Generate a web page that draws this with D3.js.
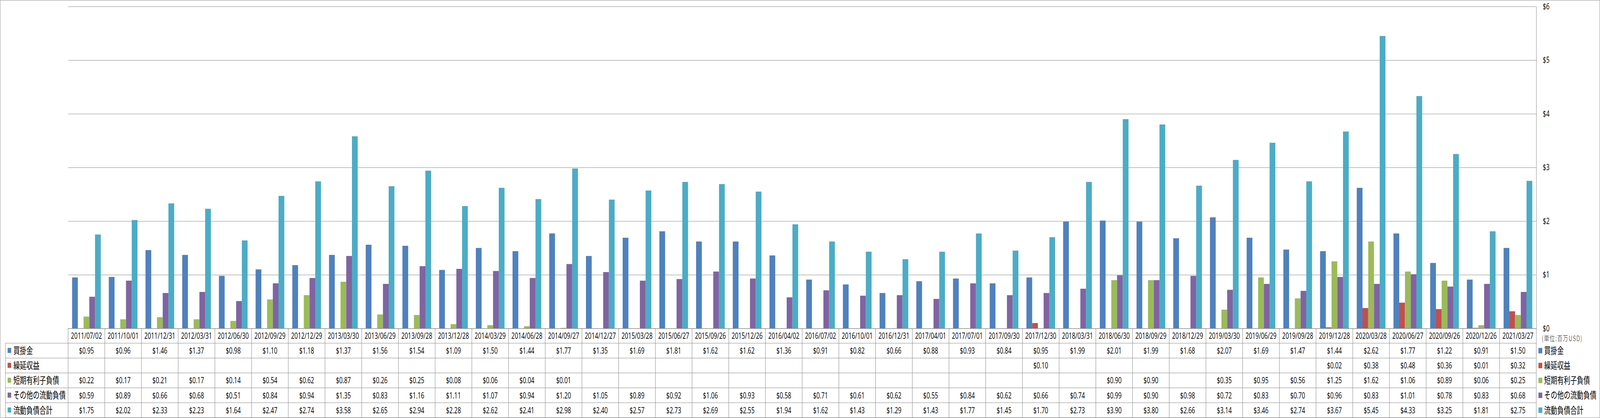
<!DOCTYPE html>
<html>
<head>
<meta charset="utf-8">
<script src="https://cdn.jsdelivr.net/npm/d3@7"></script>
<style>
	html, body { margin: 0; background: #fff; overflow: hidden; }
	svg { display: block; }
	line, path, rect.frame { vector-effect: non-scaling-stroke; }
</style>
</head>
<body>
<script>
// quarter-end dates (category axis / table header)
const dates = [
	'2011/07/02', '2011/10/01', '2011/12/31', '2012/03/31', '2012/06/30', '2012/09/29',
	'2012/12/29', '2013/03/30', '2013/06/29', '2013/09/28', '2013/12/28', '2014/03/29',
	'2014/06/28', '2014/09/27', '2014/12/27', '2015/03/28', '2015/06/27', '2015/09/26',
	'2015/12/26', '2016/04/02', '2016/07/02', '2016/10/01', '2016/12/31', '2017/04/01',
	'2017/07/01', '2017/09/30', '2017/12/30', '2018/03/31', '2018/06/30', '2018/09/29',
	'2018/12/29', '2019/03/30', '2019/06/29', '2019/09/28', '2019/12/28', '2020/03/28',
	'2020/06/27', '2020/09/26', '2020/12/26', '2021/03/27'
];

// 買掛金
const accountsPayable = [
	0.95, 0.96, 1.46, 1.37, 0.98, 1.10, 1.18, 1.37, 1.56, 1.54, 1.09, 1.50,
	1.44, 1.77, 1.35, 1.69, 1.81, 1.62, 1.62, 1.36, 0.91, 0.82, 0.66, 0.88,
	0.93, 0.84, 0.95, 1.99, 2.01, 1.99, 1.68, 2.07, 1.69, 1.47, 1.44, 2.62,
	1.77, 1.22, 0.91, 1.50
];

// 繰延収益
const deferredRevenue = [
	null, null, null, null, null, null, null, null, null, null, null, null,
	null, null, null, null, null, null, null, null, null, null, null, null,
	null, null, 0.10, null, null, null, null, null, null, null, 0.02, 0.38,
	0.48, 0.36, 0.01, 0.32
];

// 短期有利子負債
const shortTermDebt = [
	0.22, 0.17, 0.21, 0.17, 0.14, 0.54, 0.62, 0.87, 0.26, 0.25, 0.08, 0.06,
	0.04, 0.01, null, null, null, null, null, null, null, null, null, null,
	null, null, null, null, 0.90, 0.90, null, 0.35, 0.95, 0.56, 1.25, 1.62,
	1.06, 0.89, 0.06, 0.25
];

// その他の流動負債
const otherCurrent = [
	0.59, 0.89, 0.66, 0.68, 0.51, 0.84, 0.94, 1.35, 0.83, 1.16, 1.11, 1.07,
	0.94, 1.20, 1.05, 0.89, 0.92, 1.06, 0.93, 0.58, 0.71, 0.61, 0.62, 0.55,
	0.84, 0.62, 0.66, 0.74, 0.99, 0.90, 0.98, 0.72, 0.83, 0.70, 0.96, 0.83,
	1.01, 0.78, 0.83, 0.68
];

// 流動負債合計
const totalCurrent = [
	1.75, 2.02, 2.33, 2.23, 1.64, 2.47, 2.74, 3.58, 2.65, 2.94, 2.28, 2.62,
	2.41, 2.98, 2.40, 2.57, 2.73, 2.69, 2.55, 1.94, 1.62, 1.43, 1.29, 1.43,
	1.77, 1.45, 1.70, 2.73, 3.90, 3.80, 2.66, 3.14, 3.46, 2.74, 3.67, 5.45,
	4.33, 3.25, 1.81, 2.75
];

const seriesNames = ['買掛金', '繰延収益', '短期有利子負債', 'その他の流動負債', '流動負債合計'];
const seriesColors = ['#4F81BD', '#C0504D', '#9BBB59', '#8064A2', '#4BACC6'];
const yTicks = [0, 1, 2, 3, 4, 5, 6];
const unitLabel = '(単位:百万USD)';

const series = seriesNames.map((name, i) => ({
	name,
	color: seriesColors[i],
	values: [accountsPayable, deferredRevenue, shortTermDebt, otherCurrent, totalCurrent][i]
}));

// layout (drawn in reference pixels, scaled to the window through the viewBox)
const width = 5876;
const height = 1071;
const plotLeft = 250;
const plotRight = 5642;
const plotTop = 16.5;
const plotBase = 841.5;
const headBottom = 879.3;
const rowH = 38.15;
const labelLeft = 20;
const numFont = '"Open Sans", "Noto Sans", sans-serif';
const jpFont = '"Noto Sans CJK JP", sans-serif';
const lineColor = '#898989';

const svg = d3.select('body')
	.append('svg')
	.attr('width', window.innerWidth)
	.attr('height', window.innerHeight)
	.attr('viewBox', `0 0 ${width} ${height}`)
	.attr('preserveAspectRatio', 'none');

// outer frame
svg.append('rect')
	.attr('class', 'frame')
	.attr('x', 0.5)
	.attr('y', 0.5)
	.attr('width', width - 1)
	.attr('height', height - 1)
	.attr('fill', '#fff')
	.attr('stroke', lineColor);

const x0 = d3.scaleBand()
	.domain(dates)
	.range([plotLeft, plotRight]);

const x1 = d3.scaleBand()
	.domain(seriesNames)
	.range([0, x0.bandwidth()])
	.paddingOuter(0.7);

const y = d3.scaleLinear()
	.domain([0, 6])
	.range([plotBase, plotTop]);

// gridlines
svg.append('g')
	.attr('transform', `translate(${plotRight},0)`)
	.call(d3.axisLeft(y).tickValues(yTicks).tickSize(plotRight - plotLeft).tickFormat(''))
	.call(g => g.select('.domain').remove())
	.call(g => g.selectAll('line').attr('stroke', lineColor));

// bars
const groups = svg.append('g')
	.selectAll('g')
	.data(series)
	.join('g')
		.attr('fill', d => d.color);

groups.selectAll('rect')
	.data(s => s.values.map((v, i) => ({ name: s.name, date: dates[i], v })).filter(d => d.v != null))
	.join('rect')
		.attr('x', d => x0(d.date) + x1(d.name))
		.attr('y', d => y(d.v))
		.attr('width', x1.bandwidth())
		.attr('height', d => y(0) - y(d.v));

// right value axis
svg.append('g')
	.attr('transform', `translate(${plotRight},0)`)
	.call(d3.axisRight(y).tickValues(yTicks).tickSize(0).tickPadding(24).tickFormat(d => '$' + d))
	.call(g => g.select('.domain').attr('stroke', lineColor))
	.call(g => g.selectAll('text')
		.attr('font-family', numFont)
		.attr('font-size', 21.5)
		.attr('fill', '#000'));

svg.append('text')
	.attr('x', 5662)
	.attr('y', 874)
	.attr('font-family', jpFont)
	.attr('font-size', 19)
	.attr('font-weight', 300)
	.attr('textLength', 148)
	.attr('fill', '#222')
	.text(unitLabel);

// data table
const table = svg.append('g');

// horizontal rules
table.append('line')
	.attr('x1', plotLeft).attr('x2', plotRight)
	.attr('y1', plotBase).attr('y2', plotBase)
	.attr('stroke', lineColor);

table.selectAll('line.row')
	.data(d3.range(series.length + 1))
	.join('line')
		.attr('class', 'row')
		.attr('x1', labelLeft).attr('x2', plotRight)
		.attr('y1', i => headBottom + i * rowH)
		.attr('y2', i => headBottom + i * rowH)
		.attr('stroke', lineColor);

// vertical rules
table.selectAll('line.col')
	.data(dates.map(d => x0(d)).concat([plotRight]))
	.join('line')
		.attr('class', 'col')
		.attr('x1', d => d).attr('x2', d => d)
		.attr('y1', plotBase)
		.attr('y2', headBottom + series.length * rowH)
		.attr('stroke', lineColor);

table.append('line')
	.attr('x1', labelLeft).attr('x2', labelLeft)
	.attr('y1', headBottom)
	.attr('y2', headBottom + series.length * rowH)
	.attr('stroke', lineColor);

// header dates
table.selectAll('text.date')
	.data(dates)
	.join('text')
		.attr('class', 'date')
		.attr('x', d => x0(d) + x0.bandwidth() / 2)
		.attr('y', (plotBase + headBottom) / 2)
		.attr('dy', '0.36em')
		.attr('text-anchor', 'middle')
		.attr('font-family', numFont)
		.attr('font-size', 21.5)
		.text(d => d);

// row labels + cells
series.forEach((s, i) => {
	const cy = headBottom + (i + 0.5) * rowH;

	table.append('rect')
		.attr('x', 28)
		.attr('y', cy - 7)
		.attr('width', 13)
		.attr('height', 13)
		.attr('fill', s.color);

	table.append('text')
		.attr('x', 49)
		.attr('y', cy)
		.attr('dy', '0.36em')
		.attr('font-family', jpFont)
		.attr('font-size', 24)
		.text(s.name);

	table.append('g')
		.selectAll('text')
		.data(s.values.map((v, j) => ({ date: dates[j], v })).filter(d => d.v != null))
		.join('text')
			.attr('x', d => x0(d.date) + x0.bandwidth() / 2)
			.attr('y', cy)
			.attr('dy', '0.36em')
			.attr('text-anchor', 'middle')
			.attr('font-family', numFont)
			.attr('font-size', 21.5)
			.text(d => '$' + d.v.toFixed(2));

	// legend on the right
	table.append('rect')
		.attr('x', 5650)
		.attr('y', cy - 7)
		.attr('width', 14)
		.attr('height', 14)
		.attr('fill', s.color);

	table.append('text')
		.attr('x', 5671)
		.attr('y', cy)
		.attr('dy', '0.36em')
		.attr('font-family', jpFont)
		.attr('font-size', 24)
		.text(s.name);
});
</script>
</body>
</html>
